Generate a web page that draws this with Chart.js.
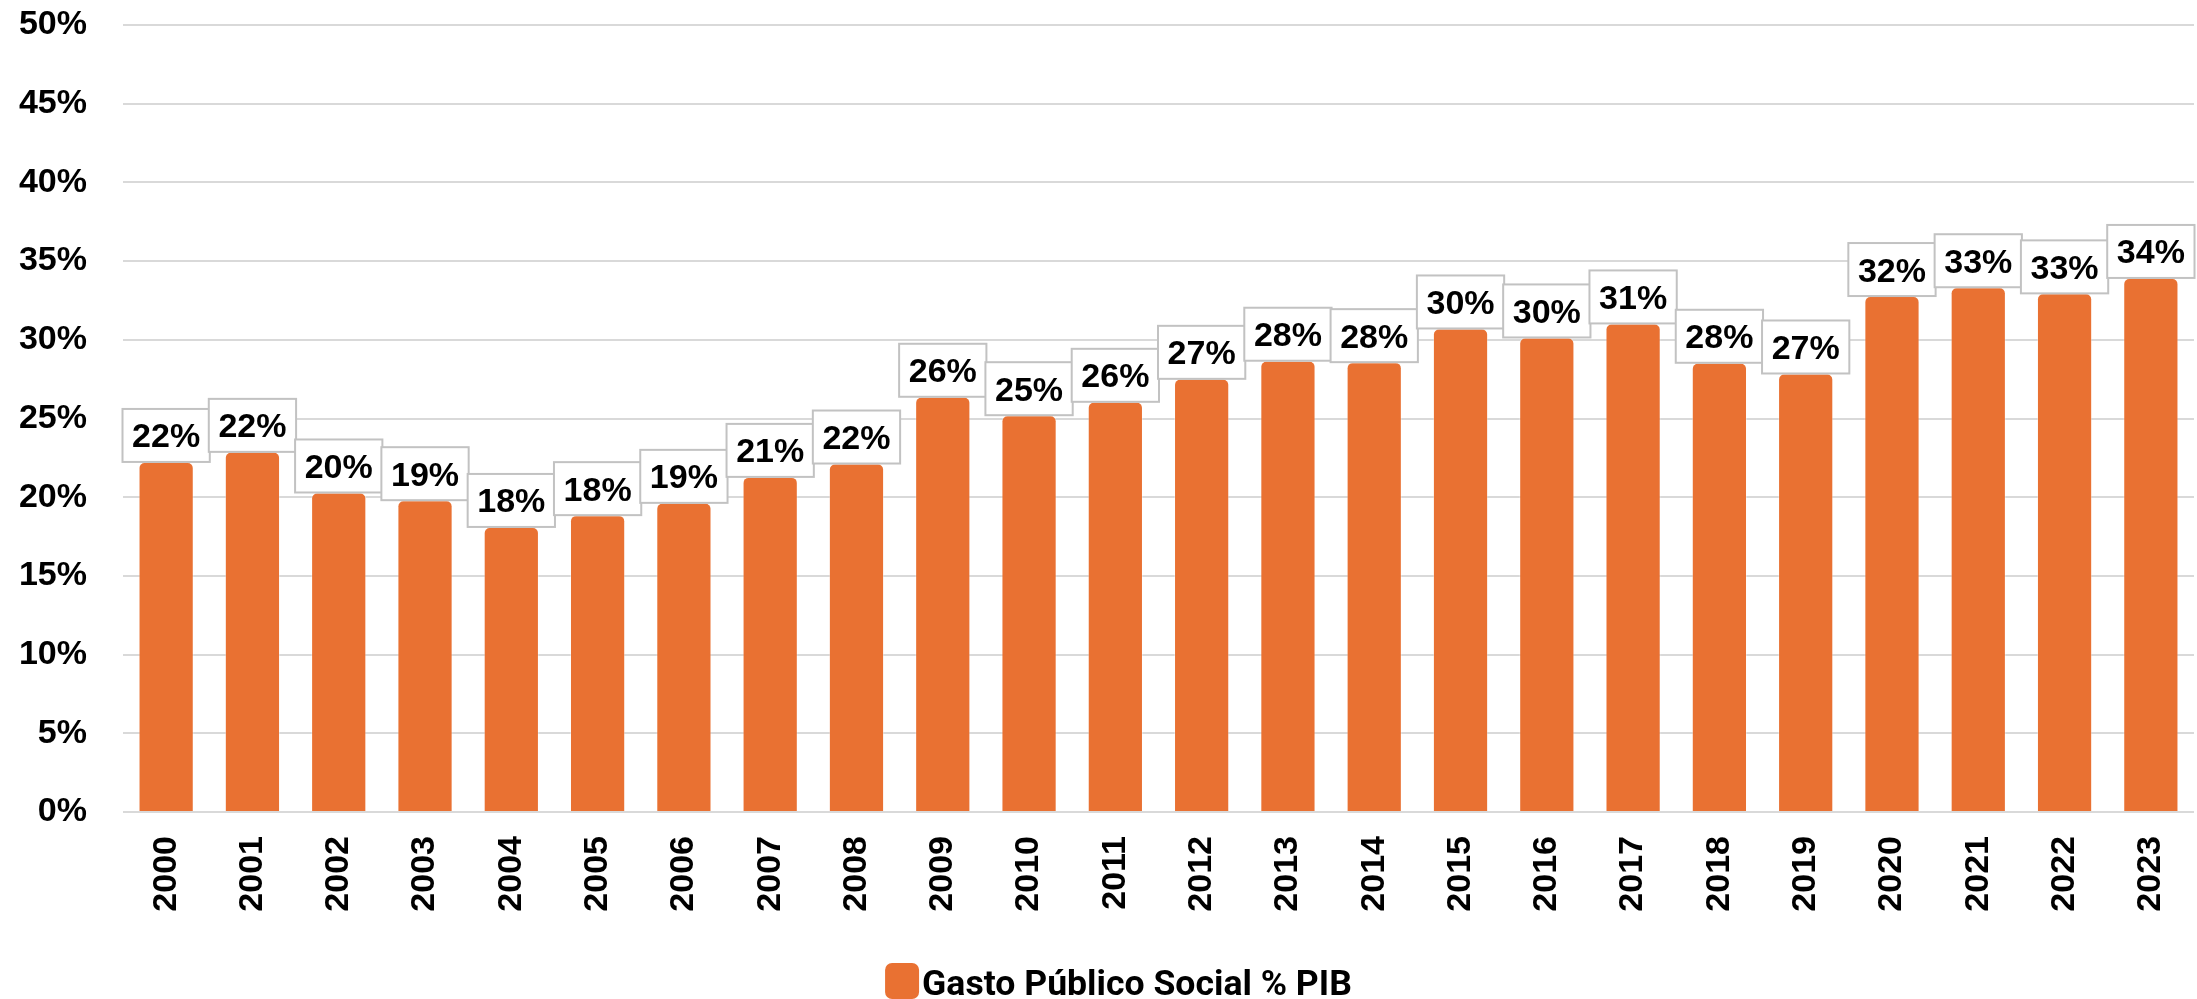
<!DOCTYPE html>
<html><head><meta charset="utf-8">
<script src="https://cdn.jsdelivr.net/npm/chart.js@4.4.1/dist/chart.umd.min.js"></script>
<style>html,body{margin:0;padding:0;background:#fff;overflow:hidden}</style>
</head><body>
<canvas id="c" width="2197" height="999"></canvas>
<script>
const years = ['2000','2001','2002','2003','2004','2005','2006','2007','2008','2009','2010','2011','2012','2013','2014','2015','2016','2017','2018','2019','2020','2021','2022','2023'];
const gastoSocialPIB = [22.24,22.88,20.30,19.81,18.11,18.86,19.64,21.29,22.14,26.38,25.21,26.06,27.52,28.67,28.58,30.72,30.15,31.04,28.54,27.86,32.78,33.34,32.95,33.93];
const valueLabels = ['22%','22%','20%','19%','18%','18%','19%','21%','22%','26%','25%','26%','27%','28%','28%','30%','30%','31%','28%','27%','32%','33%','33%','34%'];
const yTickValues = [0,5,10,15,20,25,30,35,40,45,50];
const seriesName = 'Gasto Público Social % PIB';
const barColor = '#E97132';

const FONT = '"Liberation Sans", Arial, sans-serif';
const FSIZE = 34;

const boxLabels = {
  id: 'boxLabels',
  afterDatasetsDraw(chart) {
    const ctx = chart.ctx;
    const meta = chart.getDatasetMeta(0);
    const xs = chart.scales.x;
    const catW = (xs.right - xs.left) / years.length;
    ctx.save();
    ctx.font = 'bold ' + FSIZE + 'px ' + FONT;
    ctx.textAlign = 'center';
    ctx.textBaseline = 'alphabetic';
    meta.data.forEach((bar, i) => {
      const w = catW + 1, h = 53;
      const x = bar.x - w / 2, y = bar.y - h;
      ctx.fillStyle = '#ffffff';
      ctx.fillRect(x, y, w, h);
      ctx.strokeStyle = '#c2c2c2';
      ctx.lineWidth = 2;
      ctx.strokeRect(x, y, w, h);
      ctx.fillStyle = '#000000';
      ctx.fillText(valueLabels[i], bar.x, y + h / 2 + 12);
    });
    ctx.restore();
  }
};

const customLegend = {
  id: 'customLegend',
  afterDraw(chart) {
    const ctx = chart.ctx;
    ctx.save();
    let size = 36;
    ctx.font = 'bold ' + size + 'px Roboto, "Noto Sans", sans-serif';
    let tw = ctx.measureText(seriesName).width;
    size = size * 430 / tw;
    ctx.font = 'bold ' + size + 'px Roboto, "Noto Sans", sans-serif';
    tw = ctx.measureText(seriesName).width;
    const boxW = 34, boxH = 36, gap = 3;
    const total = boxW + gap + tw;
    const startX = 1118.5 - total / 2;
    const boxY = 963;
    ctx.fillStyle = barColor;
    ctx.beginPath();
    ctx.roundRect(startX, boxY, boxW, boxH, 7);
    ctx.fill();
    ctx.fillStyle = '#000000';
    ctx.textAlign = 'left';
    ctx.textBaseline = 'alphabetic';
    ctx.fillText(seriesName, startX + boxW + gap, 995);
    ctx.restore();
  }
};

new Chart(document.getElementById('c'), {
  type: 'bar',
  data: {
    labels: years,
    datasets: [{
      label: seriesName,
      data: gastoSocialPIB,
      backgroundColor: barColor,
      borderColor: 'rgba(255,255,255,0.35)',
      borderWidth: 1,
      borderRadius: {topLeft: 6, topRight: 6, bottomLeft: 0, bottomRight: 0},
      borderSkipped: 'bottom',
      categoryPercentage: 1.0,
      barPercentage: 0.64
    }]
  },
  options: {
    responsive: false,
    devicePixelRatio: 1,
    animation: false,
    layout: { padding: { top: 25, right: 3, bottom: 60, left: 0 } },
    plugins: {
      legend: { display: false },
      tooltip: { enabled: false }
    },
    scales: {
      x: {
        grid: { display: false, drawTicks: false },
        border: { display: false },
        ticks: {
          autoSkip: false,
          maxRotation: 90,
          minRotation: 90,
          padding: 24,
          color: '#000000',
          font: { family: FONT, size: FSIZE, weight: 'bold' }
        },
        afterFit(s) { s.height = 127; s.paddingLeft = 0; s.paddingRight = 0; }
      },
      y: {
        min: 0,
        max: 50,
        afterBuildTicks(s) { s.ticks = yTickValues.map(v => ({ value: v })); },
        grid: { color: '#d9d9d9', lineWidth: 2, drawTicks: false },
        border: { display: false },
        ticks: {
          padding: 36,
          color: '#000000',
          font: { family: FONT, size: FSIZE, weight: 'bold' },
          callback: v => v + '%'
        },
        afterFit(s) { s.width = 123; s.paddingTop = 0; s.paddingBottom = 0; }
      }
    }
  },
  plugins: [boxLabels, customLegend]
});
</script>
</body></html>
